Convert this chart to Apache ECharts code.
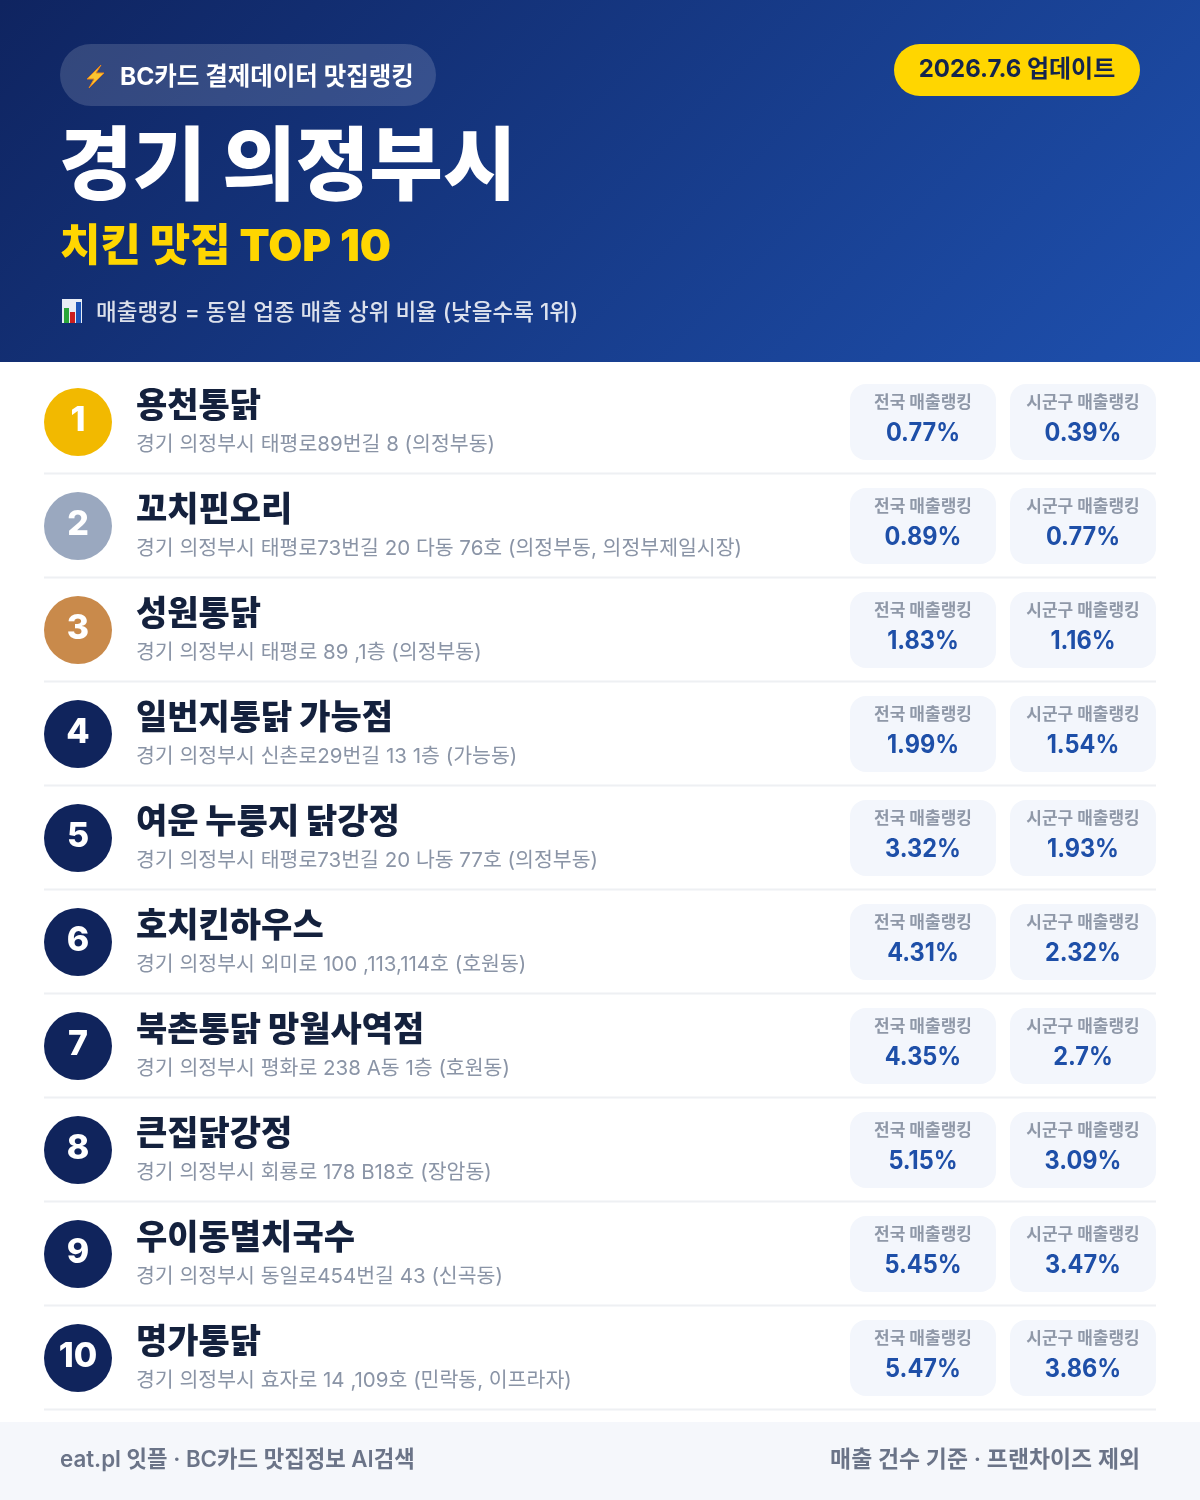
<!DOCTYPE html>
<html><head><meta charset="utf-8">
<style>html,body{margin:0;padding:0;background:#fff}#c{width:1200px;height:1500px}</style>
<script src="https://cdn.jsdelivr.net/npm/echarts@6/dist/echarts.min.js"></script>
</head><body><div id="c"></div>
<script>
const ranks = ['1','2','3','4','5','6','7','8','9','10'];
const names = ['용천통닭','꼬치핀오리','성원통닭','일번지통닭 가능점','여운 누룽지 닭강정','호치킨하우스','북촌통닭 망월사역점','큰집닭강정','우이동멸치국수','명가통닭'];
const addresses = ['경기 의정부시 태평로89번길 8 (의정부동)','경기 의정부시 태평로73번길 20 다동 76호 (의정부동, 의정부제일시장)','경기 의정부시 태평로 89 ,1층 (의정부동)','경기 의정부시 신촌로29번길 13 1층 (가능동)','경기 의정부시 태평로73번길 20 나동 77호 (의정부동)','경기 의정부시 외미로 100 ,113,114호 (호원동)','경기 의정부시 평화로 238 A동 1층 (호원동)','경기 의정부시 회룡로 178 B18호 (장암동)','경기 의정부시 동일로454번길 43 (신곡동)','경기 의정부시 효자로 14 ,109호 (민락동, 이프라자)'];
const nationalRank = [0.77,0.89,1.83,1.99,3.32,4.31,4.35,5.15,5.45,5.47];
const districtRank = [0.39,0.77,1.16,1.54,1.93,2.32,2.7,3.09,3.47,3.86];
const rankColors = ['#f2b900','#9aa8bf','#c98a4b','#10245c','#10245c','#10245c','#10245c','#10245c','#10245c','#10245c'];

const FF = 'Inter,"Noto Sans CJK KR",sans-serif';
const chart = echarts.init(document.getElementById('c'), null, {width:1200,height:1500,renderer:'canvas'});

function txt(x,y,text,size,weight,fill,align){
  return {type:'text',x:x,y:y,silent:true,style:{text:text,fontFamily:FF,fontSize:size,fontWeight:weight,fill:fill,align:align||'left',verticalAlign:'middle'}};
}
function rowItem(params, api){
  const i = api.value(1);
  const p = api.coord([0,i]);
  const cy = p[1];
  const pill = (x,label,val)=>[
    {type:'rect',shape:{x:x,y:cy-38,width:146,height:76,r:16},style:{fill:'#f3f6fc'}},
    {type:'text',x:x+73,y:cy-19,style:{text:label,fontFamily:FF,fontSize:17,fontWeight:700,fill:'#8f98a8',align:'center',verticalAlign:'middle'}},
    {type:'text',x:x+73,y:cy+11,scaleX:0.94,style:{text:val+'%',fontFamily:FF,fontSize:25,fontWeight:700,fill:'#1e4fa8',align:'center',verticalAlign:'middle'}}
  ];
  return {type:'group',children:[
    {type:'rect',shape:{x:44,y:cy+50.5,width:1112,height:2},style:{fill:'#eef0f3'}},
    {type:'text',x:136,y:cy-15,style:{text:names[i],fontFamily:FF,fontSize:34,fontWeight:900,fill:'#14213d',align:'left',verticalAlign:'middle'}},
    {type:'text',x:136,y:cy+23,style:{text:addresses[i],fontFamily:FF,fontSize:20.5,fontWeight:400,fill:'#8a94a6',align:'left',verticalAlign:'middle'}},
    ...pill(850,'전국 매출랭킹',nationalRank[i]),
    ...pill(1010,'시군구 매출랭킹',districtRank[i])
  ]};
}

chart.setOption({
  animation:false,
  backgroundColor:'#ffffff',
  grid:{left:0,top:370,width:1200,height:1040,containLabel:false},
  xAxis:{type:'value',min:0,max:1200,show:false},
  yAxis:{type:'category',inverse:true,data:ranks,show:false},
  graphic:{elements:[
    {type:'rect',z:-10,shape:{x:0,y:0,width:1200,height:362},silent:true,
     style:{fill:new echarts.graphic.LinearGradient(210,-209,990,571,[{offset:0,color:'#0f2460'},{offset:1,color:'#1e50ae'}],true)}},
    {type:'rect',shape:{x:60,y:44,width:376,height:62,r:31},silent:true,style:{fill:'rgba(255,255,255,0.15)'}},
    {type:'polygon',shape:{points:[[101,65],[87,79],[94,79],[89,88],[104,73],[96,73]]},silent:true,style:{fill:'#fbc531',stroke:'#e8851a',lineWidth:1}},
    txt(120,78,'BC카드 결제데이터 맛집랭킹',24.5,700,'#ffffff'),
    {type:'rect',shape:{x:894,y:44,width:246,height:52,r:26},silent:true,style:{fill:'#ffd600'}},
    txt(1017,70,'2026.7.6 업데이트',24,700,'#14254e','center'),
    txt(59,169,'경기 의정부시',80,900,'#ffffff'),
    txt(60,248,'치킨 맛집 TOP 10',44,900,'#ffd600'),
    {type:'rect',shape:{x:62,y:299,width:20,height:24},silent:true,style:{fill:'#e8edf5'}},
    {type:'rect',shape:{x:64,y:308,width:5,height:15},silent:true,style:{fill:'#2aa63a'}},
    {type:'rect',shape:{x:70,y:312,width:5,height:11},silent:true,style:{fill:'#cc1f1f'}},
    {type:'rect',shape:{x:76,y:302,width:5,height:21},silent:true,style:{fill:'#1c55b8'}},
    txt(96,313,'매출랭킹 = 동일 업종 매출 상위 비율 (낮을수록 1위)',22.5,500,'rgba(255,255,255,0.85)'),
    {type:'rect',z:-10,shape:{x:0,y:1422,width:1200,height:78},silent:true,style:{fill:'#f5f7fb'}},
    txt(60,1460,'eat.pl 잇플 · BC카드 맛집정보 AI검색',22.3,600,'#6b7488'),
    txt(1140,1460,'매출 건수 기준 · 프랜차이즈 제외',22.9,600,'#6b7488','right')
  ]},
  series:[
    {type:'custom',silent:true,clip:false,coordinateSystem:'cartesian2d',
     data:ranks.map((r,i)=>[0,i]),encode:{x:0,y:1},renderItem:rowItem},
    {type:'scatter',silent:true,symbol:'circle',symbolSize:68,z:5,
     data:ranks.map((r,i)=>({value:[78,i],itemStyle:{color:rankColors[i],opacity:1},
       label:{show:true,position:'inside',offset:[0,-1],formatter:r,color:'#fff',fontFamily:FF,fontSize:34,fontWeight:800}}))}
  ]
});
</script></body></html>
